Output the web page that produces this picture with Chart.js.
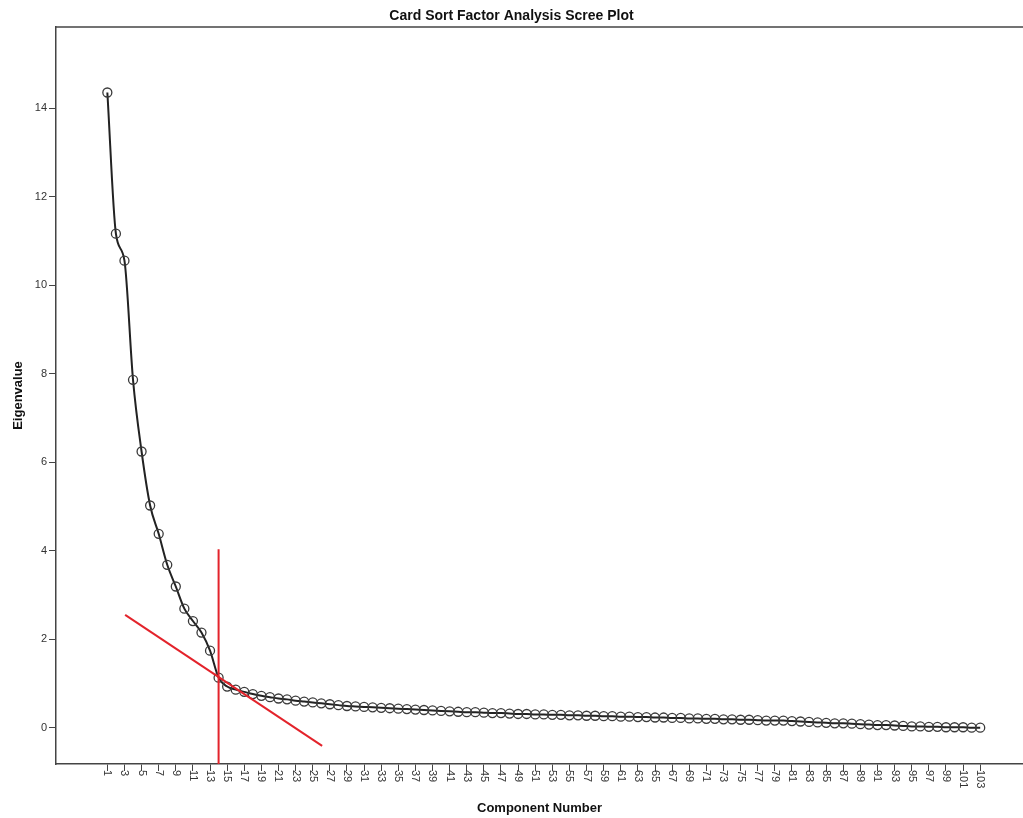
<!DOCTYPE html>
<html>
<head>
<meta charset="utf-8">
<script src="https://cdn.jsdelivr.net/npm/chart.js@4.4.1/dist/chart.umd.min.js"></script>
<style>
    html, body { margin: 0; padding: 0; background: #fff; }
</style>
</head>
<body>
<canvas id="ScreeChart" width="1023" height="818"></canvas>
<script>
// eigenvalues, component 1 .. 103
var Eigenvalues = [
    14.35, 11.16, 10.55, 7.86, 6.24, 5.02, 4.38, 3.68, 3.19, 2.69,
    2.41, 2.15, 1.74, 1.13, 0.93, 0.86, 0.81, 0.76, 0.72, 0.69,
    0.66, 0.64, 0.61, 0.59, 0.57, 0.55, 0.53, 0.51, 0.49, 0.48,
    0.47, 0.46, 0.45, 0.44, 0.43, 0.42, 0.41, 0.40, 0.39, 0.38,
    0.37, 0.36, 0.35, 0.35, 0.34, 0.33, 0.33, 0.32, 0.31, 0.31,
    0.30, 0.30, 0.29, 0.29, 0.28, 0.28, 0.27, 0.27, 0.26, 0.26,
    0.25, 0.25, 0.24, 0.24, 0.23, 0.23, 0.22, 0.22, 0.21, 0.21,
    0.20, 0.20, 0.19, 0.19, 0.18, 0.18, 0.17, 0.16, 0.16, 0.16,
    0.15, 0.14, 0.13, 0.12, 0.11, 0.10, 0.10, 0.09, 0.08, 0.07,
    0.06, 0.06, 0.05, 0.04, 0.03, 0.03, 0.02, 0.02, 0.01, 0.01,
    0.01, 0.00, 0.00
]
var ComponentNumbers = Eigenvalues.map(function (v, i) { return i + 1 })

var XTickLabels = [1, 3, 5, 7, 9, 11, 13, 15, 17, 19, 21, 23, 25, 27, 29, 31, 33, 35, 37, 39,
    41, 43, 45, 47, 49, 51, 53, 55, 57, 59, 61, 63, 65, 67, 69, 71, 73, 75, 77, 79,
    81, 83, 85, 87, 89, 91, 93, 95, 97, 99, 101, 103]
var YTickLabels = [0, 2, 4, 6, 8, 10, 12, 14]

// hand drawn red elbow lines (component, eigenvalue)
var ElbowVerticalX = [14, 14]
var ElbowVerticalY = [4.03, -0.82]
var ElbowSlopeX = [3.08, 26.1]
var ElbowSlopeY = [2.55, -0.41]

function toPoints(xs, ys) {
    return xs.map(function (x, i) { return { x: x, y: ys[i] } })
}

var FONT = '"Liberation Sans", Arial, sans-serif'

var frameAndLabels = {
    id: 'frameAndLabels',
    afterDraw: function (chart) {
        var ctx = chart.ctx
        var area = chart.chartArea
        var xs = chart.scales.x
        ctx.save()
        // top frame line
        ctx.strokeStyle = '#444'
        ctx.lineWidth = 1.5
        ctx.beginPath()
        ctx.moveTo(area.left, area.top)
        ctx.lineTo(area.right, area.top)
        ctx.stroke()
        // x labels rotated clockwise like SPSS
        ctx.font = '11px ' + FONT
        ctx.fillStyle = '#333'
        ctx.textAlign = 'left'
        ctx.textBaseline = 'middle'
        for (var v of XTickLabels) {
            ctx.save()
            ctx.translate(xs.getPixelForValue(v), xs.top + 6)
            ctx.rotate(Math.PI / 2)
            ctx.fillText(String(v), 0, 0)
            ctx.restore()
        }
        ctx.restore()
    }
}

var config_Scree = {
    type: 'line',
    data: {
        datasets: [
            {
                label: 'Elbow vertical',
                data: toPoints(ElbowVerticalX, ElbowVerticalY),
                borderColor: '#e3232b',
                borderWidth: 2,
                pointRadius: 0,
                order: 0
            },
            {
                label: 'Elbow slope',
                data: toPoints(ElbowSlopeX, ElbowSlopeY),
                borderColor: '#e3232b',
                borderWidth: 2,
                pointRadius: 0,
                order: 0
            },
            {
                label: 'Eigenvalue',
                data: toPoints(ComponentNumbers, Eigenvalues),
                borderColor: '#222',
                borderWidth: 2,
                cubicInterpolationMode: 'monotone',
                pointRadius: 4.5,
                pointBorderWidth: 1.3,
                pointBorderColor: '#3a3a3a',
                pointBackgroundColor: 'rgba(0,0,0,0)',
                order: 1
            }
        ]
    },
    options: {
        responsive: false,
        animation: false,
        layout: { padding: 0, autoPadding: false },
        plugins: {
            legend: { display: false },
            tooltip: { enabled: false },
            title: {
                display: true,
                text: 'Card Sort Factor Analysis Scree Plot',
                color: '#111',
                font: { family: FONT, size: 14, weight: 'bold' },
                padding: { top: 7.6, bottom: 2.6 }
            }
        },
        scales: {
            x: {
                type: 'linear',
                min: -5,
                max: 108,
                afterBuildTicks: function (scale) {
                    scale.ticks = XTickLabels.map(function (v) { return { value: v } })
                },
                afterFit: function (scale) { scale.height = 54 },
                ticks: { display: false },
                grid: { drawOnChartArea: false, drawTicks: true, tickLength: 7, color: '#444', lineWidth: 1 },
                border: { color: '#444', width: 1.5 },
                title: {
                    display: true,
                    text: 'Component Number',
                    color: '#111',
                    font: { family: FONT, size: 13, weight: 'bold' },
                    padding: { top: 0, bottom: 2 }
                }
            },
            y: {
                type: 'linear',
                min: -0.82,
                max: 15.83,
                afterBuildTicks: function (scale) {
                    scale.ticks = YTickLabels.map(function (v) { return { value: v } })
                },
                afterFit: function (scale) { scale.width = 56 },
                ticks: { color: '#333', font: { family: FONT, size: 11 }, padding: 2 },
                grid: { drawOnChartArea: false, drawTicks: true, tickLength: 7, color: '#444', lineWidth: 1 },
                border: { color: '#444', width: 1.5 },
                title: {
                    display: true,
                    text: 'Eigenvalue',
                    color: '#111',
                    font: { family: FONT, size: 13, weight: 'bold' },
                    padding: { top: 11, bottom: 0 }
                }
            }
        }
    },
    plugins: [frameAndLabels]
}

var ScreeChartElement = document.getElementById('ScreeChart').getContext('2d')
new Chart(ScreeChartElement, config_Scree)
</script>
</body>
</html>
